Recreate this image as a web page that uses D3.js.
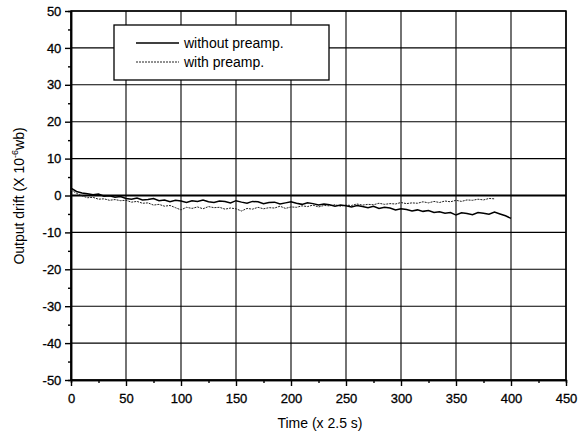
<!DOCTYPE html>
<html><head><meta charset="utf-8">
<script src="https://cdn.jsdelivr.net/npm/d3@7"></script>
<style>body{margin:0;background:#fff}svg{display:block}text{font-family:"Liberation Sans",Arial,sans-serif}</style>
</head><body><svg id="c" width="578" height="439"></svg>
<script>
const xTicks=[0,50,100,150,200,250,300,350,400,450];
const yTicks=[-50,-40,-30,-20,-10,0,10,20,30,40,50];
const seriesNames=["without preamp.","with preamp."];
const tWithout=d3.range(0,401,5);
const vWithout=[2.0,1.1,0.7,0.5,0.2,0.4,-0.2,-0.1,-0.5,-0.3,-0.8,-1.0,-0.7,-1.2,-1.1,-0.8,-1.4,-1.2,-1.7,-1.3,-1.5,-1.9,-1.4,-1.6,-1.2,-1.7,-1.9,-1.5,-1.6,-2.0,-1.4,-1.8,-2.1,-1.6,-1.7,-2.2,-1.9,-1.8,-2.3,-2.0,-1.7,-2.1,-2.4,-2.0,-2.2,-2.6,-2.3,-2.5,-2.9,-2.6,-2.8,-3.1,-2.7,-3.0,-3.3,-2.9,-3.5,-3.2,-3.4,-3.9,-3.6,-3.8,-4.2,-3.9,-4.3,-4.1,-4.6,-4.4,-4.8,-4.6,-5.3,-4.7,-4.9,-5.2,-4.6,-4.8,-5.1,-4.5,-5.0,-5.5,-6.2];
const tWith=d3.range(0,386,5);
const vWith=[1.5,0.6,-0.1,-0.6,-0.5,-1.0,-0.9,-1.3,-1.1,-1.4,-1.3,-1.8,-1.6,-2.1,-2.0,-2.6,-2.4,-2.9,-2.7,-3.3,-3.9,-3.2,-3.5,-3.1,-3.6,-3.0,-3.3,-3.2,-3.7,-3.4,-3.6,-4.2,-3.5,-3.7,-3.2,-3.6,-3.3,-3.4,-2.9,-3.5,-3.1,-3.2,-2.8,-3.0,-2.6,-3.1,-2.7,-2.8,-2.5,-2.9,-2.6,-2.7,-2.3,-2.6,-2.4,-2.5,-2.1,-2.4,-2.2,-2.3,-1.9,-2.2,-2.0,-2.1,-1.7,-2.0,-1.6,-1.9,-1.5,-1.7,-1.3,-1.6,-1.2,-1.3,-1.0,-1.2,-0.8,-0.9];

const svg=d3.select("#c");
const L=71,R=566,T=11,B=380;
const x=d3.scaleLinear().domain([0,450]).range([L,R]);
const y=d3.scaleLinear().domain([-50,50]).range([B,T]);
const fmt=d=>String(d);

// grid
const g=svg.append("g");
g.selectAll(".vg").data(xTicks).join("line").attr("x1",d=>x(d)).attr("x2",d=>x(d)).attr("y1",T).attr("y2",B).attr("stroke","#000").attr("stroke-width",1.1);
g.selectAll(".hg").data(yTicks).join("line").attr("y1",d=>y(d)).attr("y2",d=>y(d)).attr("x1",L).attr("x2",R).attr("stroke","#000").attr("stroke-width",d=>d===0?2:1.1);

// axes
const xa=svg.append("g").attr("transform",`translate(0,${B})`).call(d3.axisBottom(x).tickValues(xTicks).tickSize(6).tickSizeOuter(0).tickFormat(fmt));
const xm=svg.append("g").attr("transform",`translate(0,${B})`).call(d3.axisBottom(x).tickValues(d3.range(25,450,50)).tickSize(3).tickFormat(""));
const ya=svg.append("g").attr("transform",`translate(${L},0)`).call(d3.axisLeft(y).tickValues(yTicks).tickSize(6).tickSizeOuter(0).tickFormat(fmt));
const ym=svg.append("g").attr("transform",`translate(${L},0)`).call(d3.axisLeft(y).tickValues(d3.range(-45,50,10)).tickSize(3).tickFormat(""));
[xa,xm,ya,ym].forEach(a=>{a.select(".domain").attr("stroke","#000").attr("stroke-width",1.5);a.selectAll(".tick line").attr("stroke","#000").attr("stroke-width",1.4);});
xa.selectAll("text").attr("font-size",13).attr("fill","#000").attr("dy","1.05em").attr("stroke","#000").attr("stroke-width",0.3);
ya.selectAll("text").attr("font-size",13).attr("fill","#000").attr("dx","-0.05em").attr("stroke","#000").attr("stroke-width",0.3);
svg.append("rect").attr("x",L).attr("y",T).attr("width",R-L).attr("height",B-T).attr("fill","none").attr("stroke","#000").attr("stroke-width",1.5);

// lines
const line=d3.line().x(d=>x(d[0])).y(d=>y(d[1]));
svg.append("path").datum(tWith.map((t,i)=>[t,vWith[i]])).attr("d",line).attr("fill","none").attr("stroke","#222").attr("stroke-width",1).attr("stroke-dasharray","2,1");
svg.append("path").datum(tWithout.map((t,i)=>[t,vWithout[i]])).attr("d",line).attr("fill","none").attr("stroke","#000").attr("stroke-width",1.5);

// legend
svg.append("rect").attr("x",114).attr("y",25).attr("width",215).attr("height",55).attr("fill","#fff").attr("stroke","#000").attr("stroke-width",1.3);
const ly=[43,62];
svg.append("line").attr("x1",136).attr("x2",179).attr("y1",ly[0]).attr("y2",ly[0]).attr("stroke","#000").attr("stroke-width",1.5);
svg.append("line").attr("x1",136).attr("x2",179).attr("y1",ly[1]).attr("y2",ly[1]).attr("stroke","#222").attr("stroke-width",1).attr("stroke-dasharray","2,1");
seriesNames.forEach((n,i)=>svg.append("text").attr("x",184).attr("y",ly[i]+5).attr("font-size",14).text(n));

// titles
svg.append("text").attr("x",320).attr("y",428).attr("text-anchor","middle").attr("font-size",14).text("Time (x 2.5 s)");
const yt=svg.append("text").attr("transform","translate(24,196) rotate(-90)").attr("text-anchor","middle").attr("font-size",14);
yt.append("tspan").text("Output drift (X 10");
yt.append("tspan").attr("font-size",9).attr("dy",-6).text("-6");
yt.append("tspan").attr("dy",6).text("wb)");
</script></body></html>
